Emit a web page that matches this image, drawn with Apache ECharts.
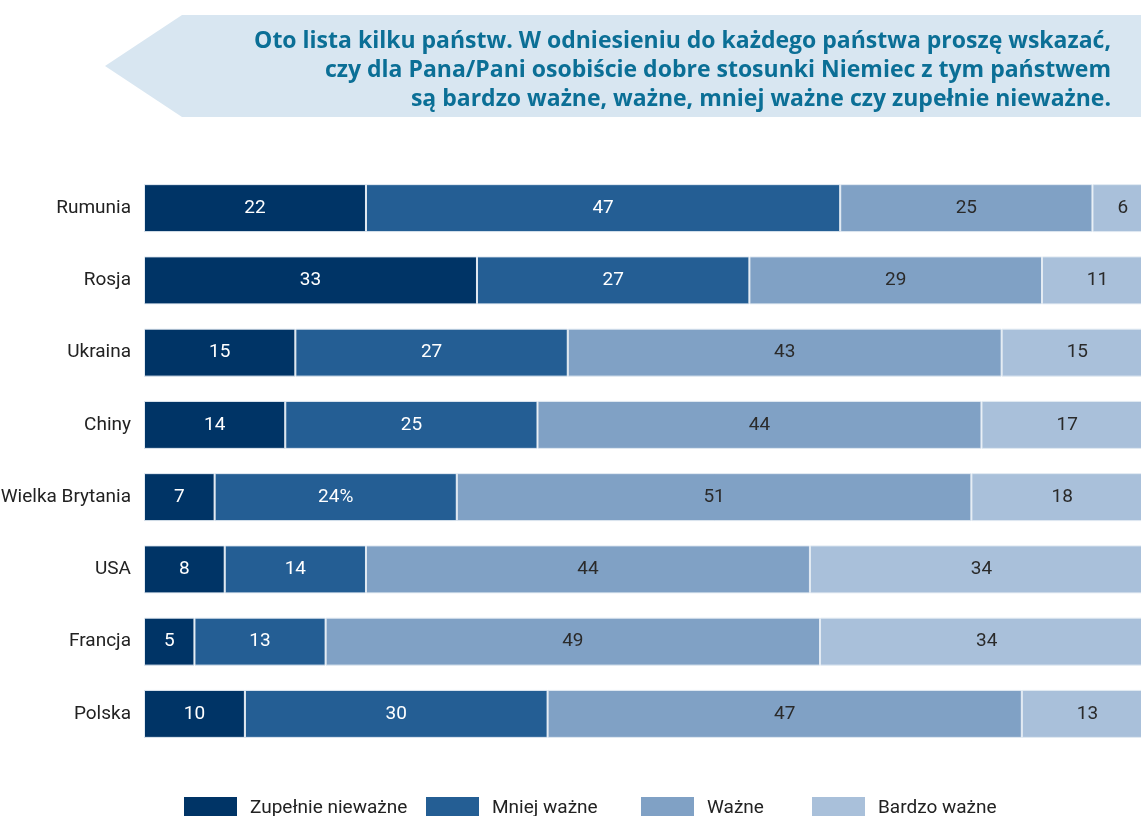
<!DOCTYPE html>
<html>
<head>
<meta charset="utf-8">
<script src="https://cdn.jsdelivr.net/npm/echarts@6/dist/echarts.min.js"></script>
<style>
html, body { margin: 0; padding: 0; background: #fff; }
#container { width: 1141px; height: 816px; }
</style>
</head>
<body>
<div id="container"></div>
<script>
// dane z wykresu
var countries = ['Rumunia', 'Rosja', 'Ukraina', 'Chiny', 'Wielka Brytania', 'USA', 'Francja', 'Polska'];
var zupelnieNiewazne = [22, 33, 15, 14, 7, 8, 5, 10];
var mniejWazne = [47, 27, 27, 25, 24, 14, 13, 30];
var wazne = [25, 29, 43, 44, 51, 44, 49, 47];
var bardzoWazne = [6, 11, 15, 17, 18, 34, 34, 13];
var seriesNames = ['Zupełnie nieważne', 'Mniej ważne', 'Ważne', 'Bardzo ważne'];
var titleLines = [
	'Oto lista kilku państw. W odniesieniu do każdego państwa proszę wskazać,',
	'czy dla Pana/Pani osobiście dobre stosunki Niemiec z tym państwem',
	'są bardzo ważne, ważne, mniej ważne czy zupełnie nieważne.'
];

var condensed = 'Roboto, "Liberation Sans", sans-serif';
var colors = ['#003466', '#245e94', '#80a1c5', '#a9c0da'];
var labelColors = ['#ffffff', '#ffffff', '#2a2a2a', '#2a2a2a'];
var allData = [zupelnieNiewazne, mniejWazne, wazne, bardzoWazne];

var series = [];
for (var i = 0; i < allData.length; i++) {
	series.push({
		name: seriesNames[i],
		type: 'bar',
		stack: 'total',
		barWidth: 48,
		data: allData[i],
		itemStyle: { color: colors[i], borderColor: '#e3ebf3', borderWidth: 1 },
		label: {
			show: true,
			position: 'inside',
			color: labelColors[i],
			fontFamily: condensed,
			fontSize: 19,
			formatter: function (p) {
				// w oryginale przy Wielkiej Brytanii stoi "24%"
				if (p.seriesIndex === 1 && p.dataIndex === 4) return p.value + '%';
				return p.value;
			}
		}
	});
}

var legendLeft = [184, 426, 641, 812];
var legends = [];
for (var j = 0; j < seriesNames.length; j++) {
	legends.push({
		data: [seriesNames[j]],
		left: legendLeft[j],
		top: 797,
		padding: 0,
		icon: 'rect',
		itemWidth: 53,
		itemHeight: 22,
		itemStyle: { borderWidth: 0 },
		selectedMode: false,
		textStyle: { fontFamily: condensed, fontSize: 19, color: '#222', padding: [2, 0, 0, 8] }
	});
}

var graphics = [{
	type: 'polygon',
	shape: { points: [[105, 66], [182, 15], [1141, 15], [1141, 117], [182, 117]] },
	style: { fill: '#d8e6f1' },
	z: 0
}];
for (var k = 0; k < titleLines.length; k++) {
	graphics.push({
		type: 'text',
		x: 1111,
		y: 41 + k * 29,
		style: {
			text: titleLines[k],
			align: 'right',
			verticalAlign: 'middle',
			fill: '#0b6f96',
			font: 'bold 23px "Open Sans", sans-serif'
		},
		z: 1
	});
}

var option = {
	animation: false,
	grid: { left: 144, right: -12, top: 172, bottom: 66, outerBoundsMode: 'none', containLabel: false },
	xAxis: { type: 'value', min: 0, max: 100, show: false },
	yAxis: {
		type: 'category',
		inverse: true,
		data: countries,
		axisLine: { show: false },
		axisTick: { show: false },
		axisLabel: { margin: 13, fontFamily: condensed, fontSize: 19, color: '#222' }
	},
	legend: legends,
	graphic: graphics,
	series: series
};

var myChart = echarts.init(document.getElementById('container'));
myChart.setOption(option);
</script>
</body>
</html>
